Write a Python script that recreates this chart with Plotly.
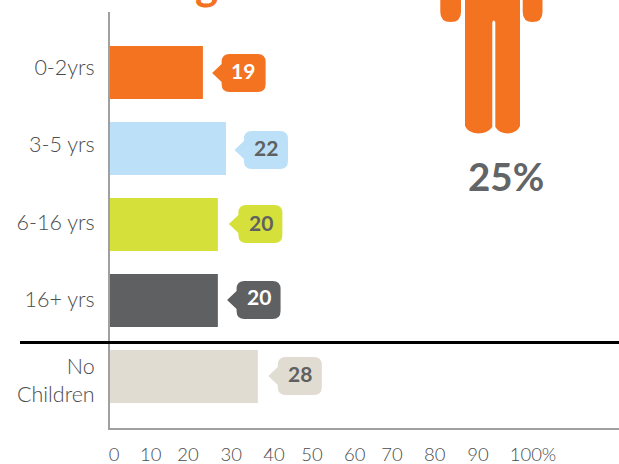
import plotly.graph_objects as go

W, H = 619, 464

# Data
categories = ["0-2yrs", "3-5 yrs", "6-16 yrs", "16+ yrs", "No<br>Children"]
values = [19, 22, 20, 20, 28]
bar_on_axis = [23.0, 28.7, 26.7, 26.7, 36.6]   # bar ends as read against the drawn axis
colors = ["#F47321", "#BBE0F7", "#D5E03A", "#5F6062", "#E0DCD1"]
label_colors = ["#FFFFFF", "#5F6062", "#5F6062", "#FFFFFF", "#5F6062"]
row_pos = [0, 1, 2, 3, 4]
cat_tick_pos = [-0.07, 0.95, 1.97, 2.98, 4.05]
x_ticks = ["0", "10", "20", "30", "40", "50", "60", "70", "80", "90", "100%"]
x_tick_pos = [1.0, 10.1, 19.3, 30.0, 40.6, 50.0, 60.6, 69.8, 80.4, 91.1, 104.7]
callout_dx = [18.7, 18, 20.5, 18.7, 20]
callout_dy = [0.5, 1.5, -0.5, -0.5, -0.5]
text_dx = [40, 40.3, 43, 41, 41.7]
text_dy = [-2.5, -1.5, -2.5, -4.5, -3.5]
share_label = "25%"

fig = go.Figure(go.Bar(
    x=bar_on_axis, y=row_pos, orientation="h",
    marker=dict(color=colors, line=dict(width=0)),
    hoverinfo="skip", width=53 / 76,
))


def person_path():
    def p(x, y):
        return f"{x:.1f},{-y:.1f}"
    d = []
    # legs / body
    d.append(f"M{p(465,-5)} L{p(465,126)} Q{p(468,133)} {p(478,133.5)} Q{p(488,133)} {p(492.3,127)} "
             f"L{p(492.3,22)} Q{p(493.8,19)} {p(495.3,22)} L{p(495.3,127)} "
             f"Q{p(499,133)} {p(508,133.5)} Q{p(517,133)} {p(520,126)} L{p(520,-5)} Z")
    # arms
    for a, b in ((440.3, 461), (522.7, 542.5)):
        m = (a + b) / 2
        d.append(f"M{p(a,-5)} L{p(a,12)} Q{p(a,22)} {p(m,22)} Q{p(b,22)} {p(b,12)} L{p(b,-5)} Z")
    return " ".join(d)


shapes = [dict(type="path", xref="paper", yref="paper", xsizemode="pixel", ysizemode="pixel",
               xanchor=0, yanchor=1, path=person_path(), fillcolor="#F47321", line=dict(width=0),
               layer="above")]

# Callouts anchored on each bar's end
for v, r, c, dx, dy in zip(bar_on_axis, row_pos, colors, callout_dx, callout_dy):
    L, R, T, B, rad = dx, dx + 44, dy - 19, dy + 19, 8
    def q(x, y):
        return f"{x:.1f},{-y:.1f}"
    path = (f"M{q(L+rad,T)} L{q(R-rad,T)} Q{q(R,T)} {q(R,T+rad)} L{q(R,B-rad)} Q{q(R,B)} {q(R-rad,B)} "
            f"L{q(L+rad,B)} Q{q(L,B)} {q(L,B-rad)} L{q(L,dy+9)} L{q(L-9.5,dy)} L{q(L,dy-9)} "
            f"L{q(L,T+rad)} Q{q(L,T)} {q(L+rad,T)} Z")
    shapes.append(dict(type="path", xref="x", yref="y", xsizemode="pixel", ysizemode="pixel",
                       xanchor=v, yanchor=r, path=path, fillcolor=c, line=dict(width=0), layer="above"))

# Separator
shapes.append(dict(type="line", xref="paper", yref="paper", x0=20 / W, x1=1,
                   y0=1 - 342.5 / H, y1=1 - 342.5 / H, line=dict(color="#000000", width=3), layer="above"))

annotations = [
    dict(x=v, y=r, xref="x", yref="y", text=f"<b>{n}</b>", showarrow=False, xanchor="center", yanchor="middle",
         xshift=tx, yshift=-ty, font=dict(family="Lato", size=21, color=lc))
    for v, r, n, lc, tx, ty in zip(bar_on_axis, row_pos, values, label_colors, text_dx, text_dy)
]
annotations.append(dict(x=505.5 / W, y=1 - 176 / H, xref="paper", yref="paper", text=f"<b>{share_label}</b>",
                        showarrow=False, xanchor="center", yanchor="middle",
                        font=dict(family="Lato", size=38.5, color="#636466")))
# Descender of the cropped heading
annotations.append(dict(x=206 / W, y=1 - 6 / H, xref="paper", yref="paper", text="<b>g</b>", showarrow=False,
                        xanchor="center", yanchor="bottom", yshift=-4.5,
                        font=dict(family="Lato", size=44, color="#F47321")))

fig.update_layout(
    width=W, height=H, margin=dict(l=0, r=0, t=0, b=0, pad=0),
    paper_bgcolor="#FFFFFF", plot_bgcolor="#FFFFFF", showlegend=False,
    shapes=shapes, annotations=annotations,
    xaxis=dict(domain=[110 / W, 1], range=[0, 509 / 4.04], tickmode="array", tickvals=x_tick_pos,
               ticktext=x_ticks, showgrid=False, zeroline=False, showline=True, linecolor="#A0A0A0", linewidth=2.4,
               ticks="", ticklabelstandoff=9, tickfont=dict(family="Lato Light", size=18.5, color="#4A4B4D"),
               anchor="y", automargin=False),
    yaxis=dict(domain=[1 - 427.5 / H, 1 - 12 / H], range=[4.671, -0.796], tickmode="array",
               tickvals=cat_tick_pos, ticktext=categories, showgrid=False, zeroline=False, showline=True,
               linecolor="#A0A0A0", linewidth=2, ticks="", ticklabelstandoff=9,
               tickfont=dict(family="Lato Light", size=21.5, color="#4A4B4D"), anchor="x", automargin=False),
)

fig.write_html("out.html", config=dict(displayModeBar=False),
               post_script="document.body.style.margin='0';document.body.style.overflow='hidden';")
